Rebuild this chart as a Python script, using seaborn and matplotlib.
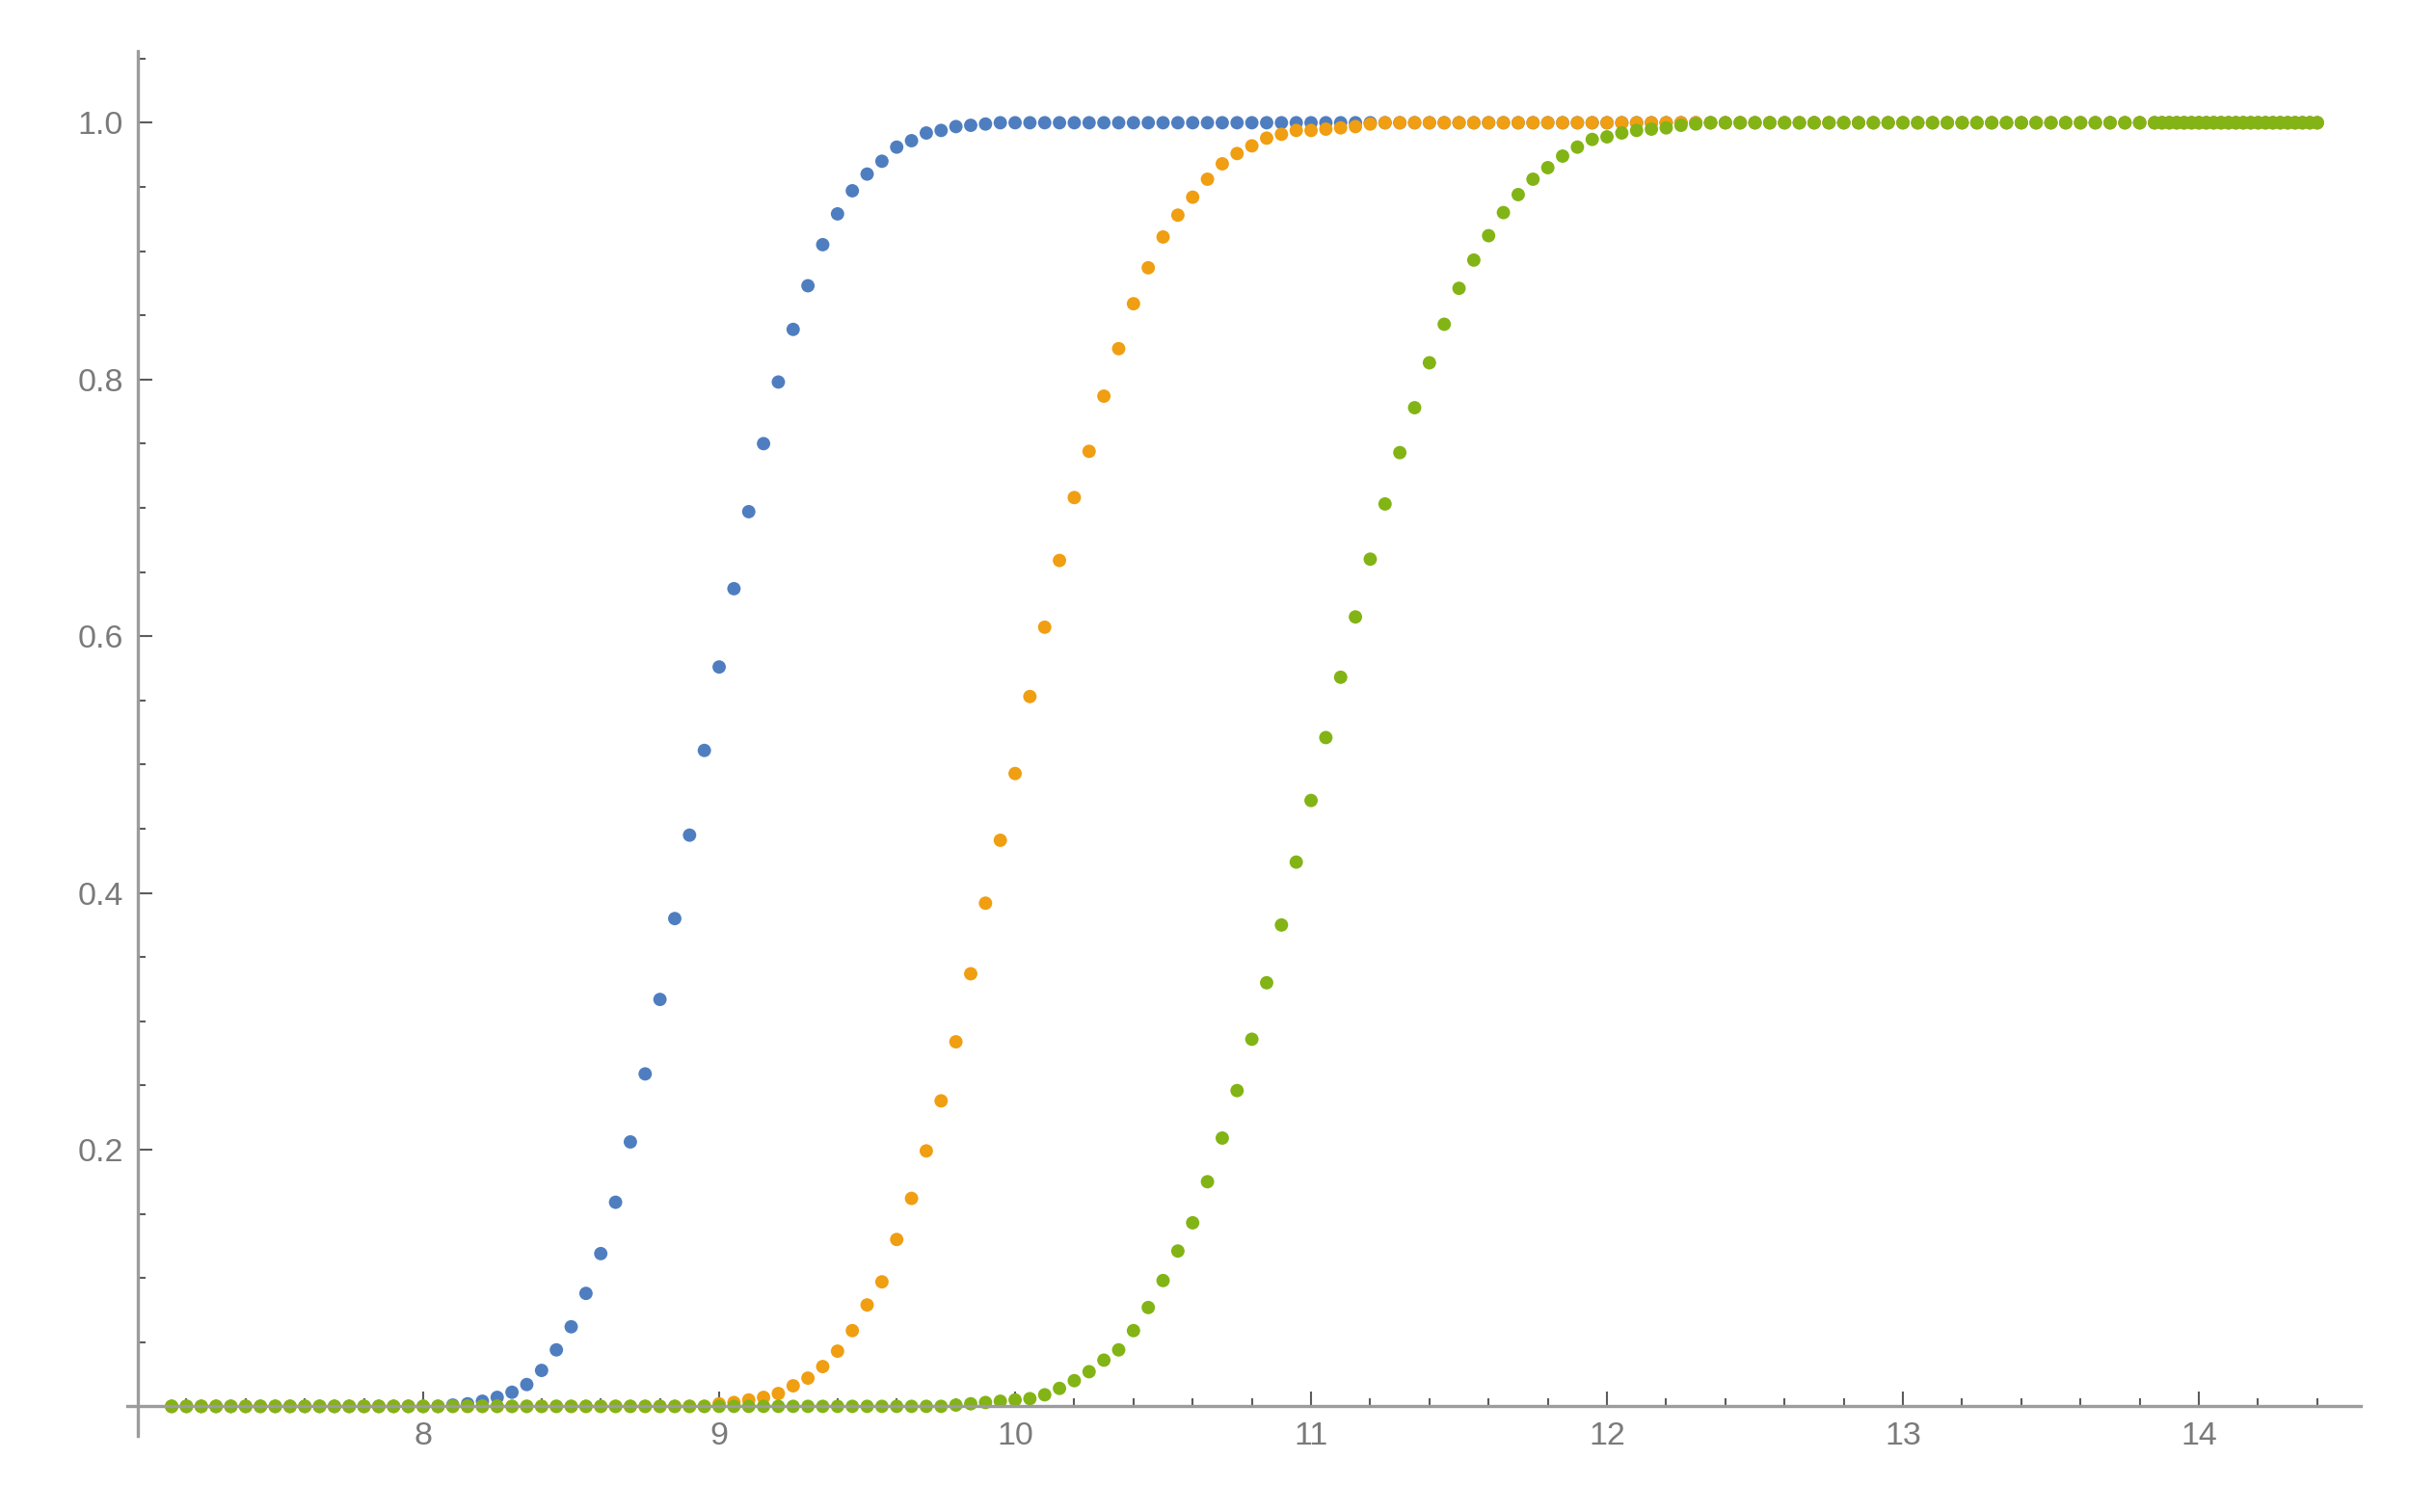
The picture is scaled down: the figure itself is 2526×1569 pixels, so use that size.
import matplotlib
matplotlib.use("Agg")
import matplotlib.pyplot as plt
import seaborn as sns
import pandas as pd
from matplotlib.ticker import FixedLocator, NullFormatter

# ---------------- data ----------------
x_values = [
    7.15, 7.2, 7.25, 7.3, 7.35, 7.4, 7.45, 7.5, 7.55, 7.6, 7.65, 7.7, 7.75, 7.8, 7.85, 7.9, 7.95,
    8.0, 8.05, 8.1, 8.15, 8.2, 8.25, 8.3, 8.35, 8.4, 8.45, 8.5, 8.55, 8.6, 8.65, 8.7, 8.75, 8.8, 8.85, 8.9, 8.95,
    9.0, 9.05, 9.1, 9.15, 9.2, 9.25, 9.3, 9.35, 9.4, 9.45, 9.5, 9.55, 9.6, 9.65, 9.7, 9.75, 9.8, 9.85, 9.9, 9.95,
    10.0, 10.05, 10.1, 10.15, 10.2, 10.25, 10.3, 10.35, 10.4, 10.45, 10.5, 10.55, 10.6, 10.65, 10.7, 10.75, 10.8, 10.85, 10.9, 10.95,
    11.0, 11.05, 11.1, 11.15, 11.2, 11.25, 11.3, 11.35, 11.4, 11.45, 11.5, 11.55, 11.6, 11.65, 11.7, 11.75, 11.8, 11.85, 11.9, 11.95,
    12.0, 12.05, 12.1, 12.15, 12.2, 12.25, 12.3, 12.35, 12.4, 12.45, 12.5, 12.55, 12.6, 12.65, 12.7, 12.75, 12.8, 12.85, 12.9, 12.95,
    13.0, 13.05, 13.1, 13.15, 13.2, 13.25, 13.3, 13.35, 13.4, 13.45, 13.5, 13.55, 13.6, 13.65, 13.7, 13.75, 13.8, 13.85,
    13.875, 13.9, 13.925, 13.95, 13.975, 14.0, 14.025, 14.05, 14.075, 14.1, 14.125, 14.15, 14.175, 14.2, 14.225, 14.25,
    14.275, 14.3, 14.325, 14.35, 14.375, 14.4,
]

blue_y = [
    0.0, 0.0, 0.0, 0.0, 0.0, 0.0, 0.0, 0.0, 0.0, 0.0, 0.0, 0.0, 0.0, 0.0, 0.0, 0.0, 0.0,
    0.0, 0.0, 0.001, 0.002, 0.004, 0.007, 0.011, 0.017, 0.028, 0.044, 0.062, 0.088, 0.119, 0.159, 0.206, 0.259, 0.317, 0.380, 0.445, 0.511,
    0.576, 0.637, 0.697, 0.750, 0.798, 0.839, 0.873, 0.905, 0.929, 0.947, 0.960, 0.970, 0.981, 0.986, 0.992, 0.994, 0.997, 0.998, 0.999, 1.0,
    1.0, 1.0, 1.0, 1.0, 1.0, 1.0, 1.0, 1.0, 1.0, 1.0, 1.0, 1.0, 1.0, 1.0, 1.0, 1.0, 1.0, 1.0, 1.0, 1.0,
    1.0, 1.0, 1.0, 1.0, 1.0, 1.0, 1.0, 1.0, 1.0, 1.0, 1.0, 1.0, 1.0, 1.0, 1.0, 1.0, 1.0, 1.0, 1.0, 1.0,
    1.0, 1.0, 1.0, 1.0, 1.0, 1.0, 1.0, 1.0, 1.0, 1.0, 1.0, 1.0, 1.0, 1.0, 1.0, 1.0, 1.0, 1.0, 1.0, 1.0,
    1.0, 1.0, 1.0, 1.0, 1.0, 1.0, 1.0, 1.0, 1.0, 1.0, 1.0, 1.0, 1.0, 1.0, 1.0, 1.0, 1.0, 1.0,
    1.0, 1.0, 1.0, 1.0, 1.0, 1.0, 1.0, 1.0, 1.0, 1.0, 1.0, 1.0, 1.0, 1.0, 1.0, 1.0, 1.0, 1.0, 1.0, 1.0, 1.0, 1.0,
]

orange_y = [
    0.0, 0.0, 0.0, 0.0, 0.0, 0.0, 0.0, 0.0, 0.0, 0.0, 0.0, 0.0, 0.0, 0.0, 0.0, 0.0, 0.0,
    0.0, 0.0, 0.0, 0.0, 0.0, 0.0, 0.0, 0.0, 0.0, 0.0, 0.0, 0.0, 0.0, 0.0, 0.0, 0.0, 0.0, 0.0, 0.0, 0.0,
    0.002, 0.003, 0.005, 0.007, 0.010, 0.016, 0.022, 0.031, 0.043, 0.059, 0.079, 0.097, 0.130, 0.162, 0.199, 0.238, 0.284, 0.337, 0.392, 0.441,
    0.493, 0.553, 0.607, 0.659, 0.708, 0.744, 0.787, 0.824, 0.859, 0.887, 0.911, 0.928, 0.942, 0.956, 0.968, 0.976, 0.982, 0.988, 0.991, 0.994,
    0.994, 0.995, 0.996, 0.997, 0.999, 1.0, 1.0, 1.0, 1.0, 1.0, 1.0, 1.0, 1.0, 1.0, 1.0, 1.0, 1.0, 1.0, 1.0, 1.0,
    1.0, 1.0, 1.0, 1.0, 1.0, 1.0, 1.0, 1.0, 1.0, 1.0, 1.0, 1.0, 1.0, 1.0, 1.0, 1.0, 1.0, 1.0, 1.0, 1.0,
    1.0, 1.0, 1.0, 1.0, 1.0, 1.0, 1.0, 1.0, 1.0, 1.0, 1.0, 1.0, 1.0, 1.0, 1.0, 1.0, 1.0, 1.0,
    1.0, 1.0, 1.0, 1.0, 1.0, 1.0, 1.0, 1.0, 1.0, 1.0, 1.0, 1.0, 1.0, 1.0, 1.0, 1.0, 1.0, 1.0, 1.0, 1.0, 1.0, 1.0,
]

green_y = [
    0.0, 0.0, 0.0, 0.0, 0.0, 0.0, 0.0, 0.0, 0.0, 0.0, 0.0, 0.0, 0.0, 0.0, 0.0, 0.0, 0.0,
    0.0, 0.0, 0.0, 0.0, 0.0, 0.0, 0.0, 0.0, 0.0, 0.0, 0.0, 0.0, 0.0, 0.0, 0.0, 0.0, 0.0, 0.0, 0.0, 0.0,
    0.0, 0.0, 0.0, 0.0, 0.0, 0.0, 0.0, 0.0, 0.0, 0.0, 0.0, 0.0, 0.0, 0.0, 0.0, 0.0, 0.001, 0.002, 0.003, 0.004,
    0.005, 0.006, 0.009, 0.014, 0.020, 0.027, 0.036, 0.044, 0.059, 0.077, 0.098, 0.121, 0.143, 0.175, 0.209, 0.246, 0.286, 0.330, 0.375, 0.424,
    0.472, 0.521, 0.568, 0.615, 0.660, 0.703, 0.743, 0.778, 0.813, 0.843, 0.871, 0.893, 0.912, 0.930, 0.944, 0.956, 0.965, 0.974, 0.981, 0.987,
    0.989, 0.992, 0.994, 0.995, 0.996, 0.998, 0.999, 1.0, 1.0, 1.0, 1.0, 1.0, 1.0, 1.0, 1.0, 1.0, 1.0, 1.0, 1.0, 1.0,
    1.0, 1.0, 1.0, 1.0, 1.0, 1.0, 1.0, 1.0, 1.0, 1.0, 1.0, 1.0, 1.0, 1.0, 1.0, 1.0, 1.0, 1.0,
    1.0, 1.0, 1.0, 1.0, 1.0, 1.0, 1.0, 1.0, 1.0, 1.0, 1.0, 1.0, 1.0, 1.0, 1.0, 1.0, 1.0, 1.0, 1.0, 1.0, 1.0, 1.0,
]

series_names = ["series 1", "series 2", "series 3"]
series_colors = ["#4F7EC0", "#F09E12", "#82B415"]

x_tick_values = [8, 9, 10, 11, 12, 13, 14]
x_tick_labels = ["8", "9", "10", "11", "12", "13", "14"]
y_tick_values = [0.2, 0.4, 0.6, 0.8, 1.0]
y_tick_labels = ["0.2", "0.4", "0.6", "0.8", "1.0"]

for name, ys in zip(series_names, [blue_y, orange_y, green_y]):
    if len(ys) != len(x_values):
        raise ValueError(f"{name}: {len(ys)} values vs {len(x_values)} x")

# ---------------- build long table ----------------
rows_x, rows_y, rows_s = [], [], []
for name, ys in zip(series_names, [blue_y, orange_y, green_y]):
    rows_x += x_values
    rows_y += ys
    rows_s += [name] * len(ys)
df = pd.DataFrame({"x": rows_x, "y": rows_y, "series": rows_s})

# ---------------- plot ----------------
sns.set_theme(style="white")
plt.rcParams["font.family"] = ["Liberation Sans", "DejaVu Sans"]

fig = plt.figure(figsize=(25.26, 15.69), dpi=100)
ax = fig.add_axes([0.05226, 0.05035, 0.91726, 0.91568])

sns.scatterplot(
    data=df, x="x", y="y", hue="series",
    palette=dict(zip(series_names, series_colors)),
    s=100, linewidth=0, legend=False, ax=ax,
)

ax.set_xlim(7.0, 14.547)
ax.set_ylim(-0.023, 1.0556)
ax.set_xlabel("")
ax.set_ylabel("")

ax.spines["top"].set_visible(False)
ax.spines["right"].set_visible(False)
ax.spines["left"].set_position(("data", 7.035))
ax.spines["bottom"].set_position(("data", 0.0))
for side in ("left", "bottom"):
    ax.spines[side].set_color("#9c9c9c")
    ax.spines[side].set_linewidth(2.4)

ax.xaxis.set_major_locator(FixedLocator(x_tick_values))
ax.set_xticklabels(x_tick_labels)
x_minor = [round(7.2 + 0.2 * i, 2) for i in range(37)]
x_minor = [v for v in x_minor if abs(v - round(v)) > 1e-6]
ax.xaxis.set_minor_locator(FixedLocator(x_minor))

ax.yaxis.set_major_locator(FixedLocator(y_tick_values))
ax.set_yticklabels(y_tick_labels)
y_minor = [round(0.05 * i, 2) for i in range(1, 22)]
y_minor = [v for v in y_minor if all(abs(v - t) > 1e-6 for t in y_tick_values)]
ax.yaxis.set_minor_locator(FixedLocator(y_minor))
ax.xaxis.set_minor_formatter(NullFormatter())
ax.yaxis.set_minor_formatter(NullFormatter())

ax.tick_params(axis="both", which="both", bottom=True, left=True, top=False, right=False)
ax.tick_params(axis="both", which="major", direction="in", length=10.8, width=1.5,
               color="#5c5c5c", labelsize=24.5, labelcolor="#7a7a7a")
ax.tick_params(axis="both", which="minor", direction="in", length=5.8, width=1.5,
               color="#5c5c5c")
ax.tick_params(axis="x", which="major", pad=11)
ax.tick_params(axis="y", which="major", pad=10.5)
ax.grid(False)

fig.savefig("out.png", dpi=100)
